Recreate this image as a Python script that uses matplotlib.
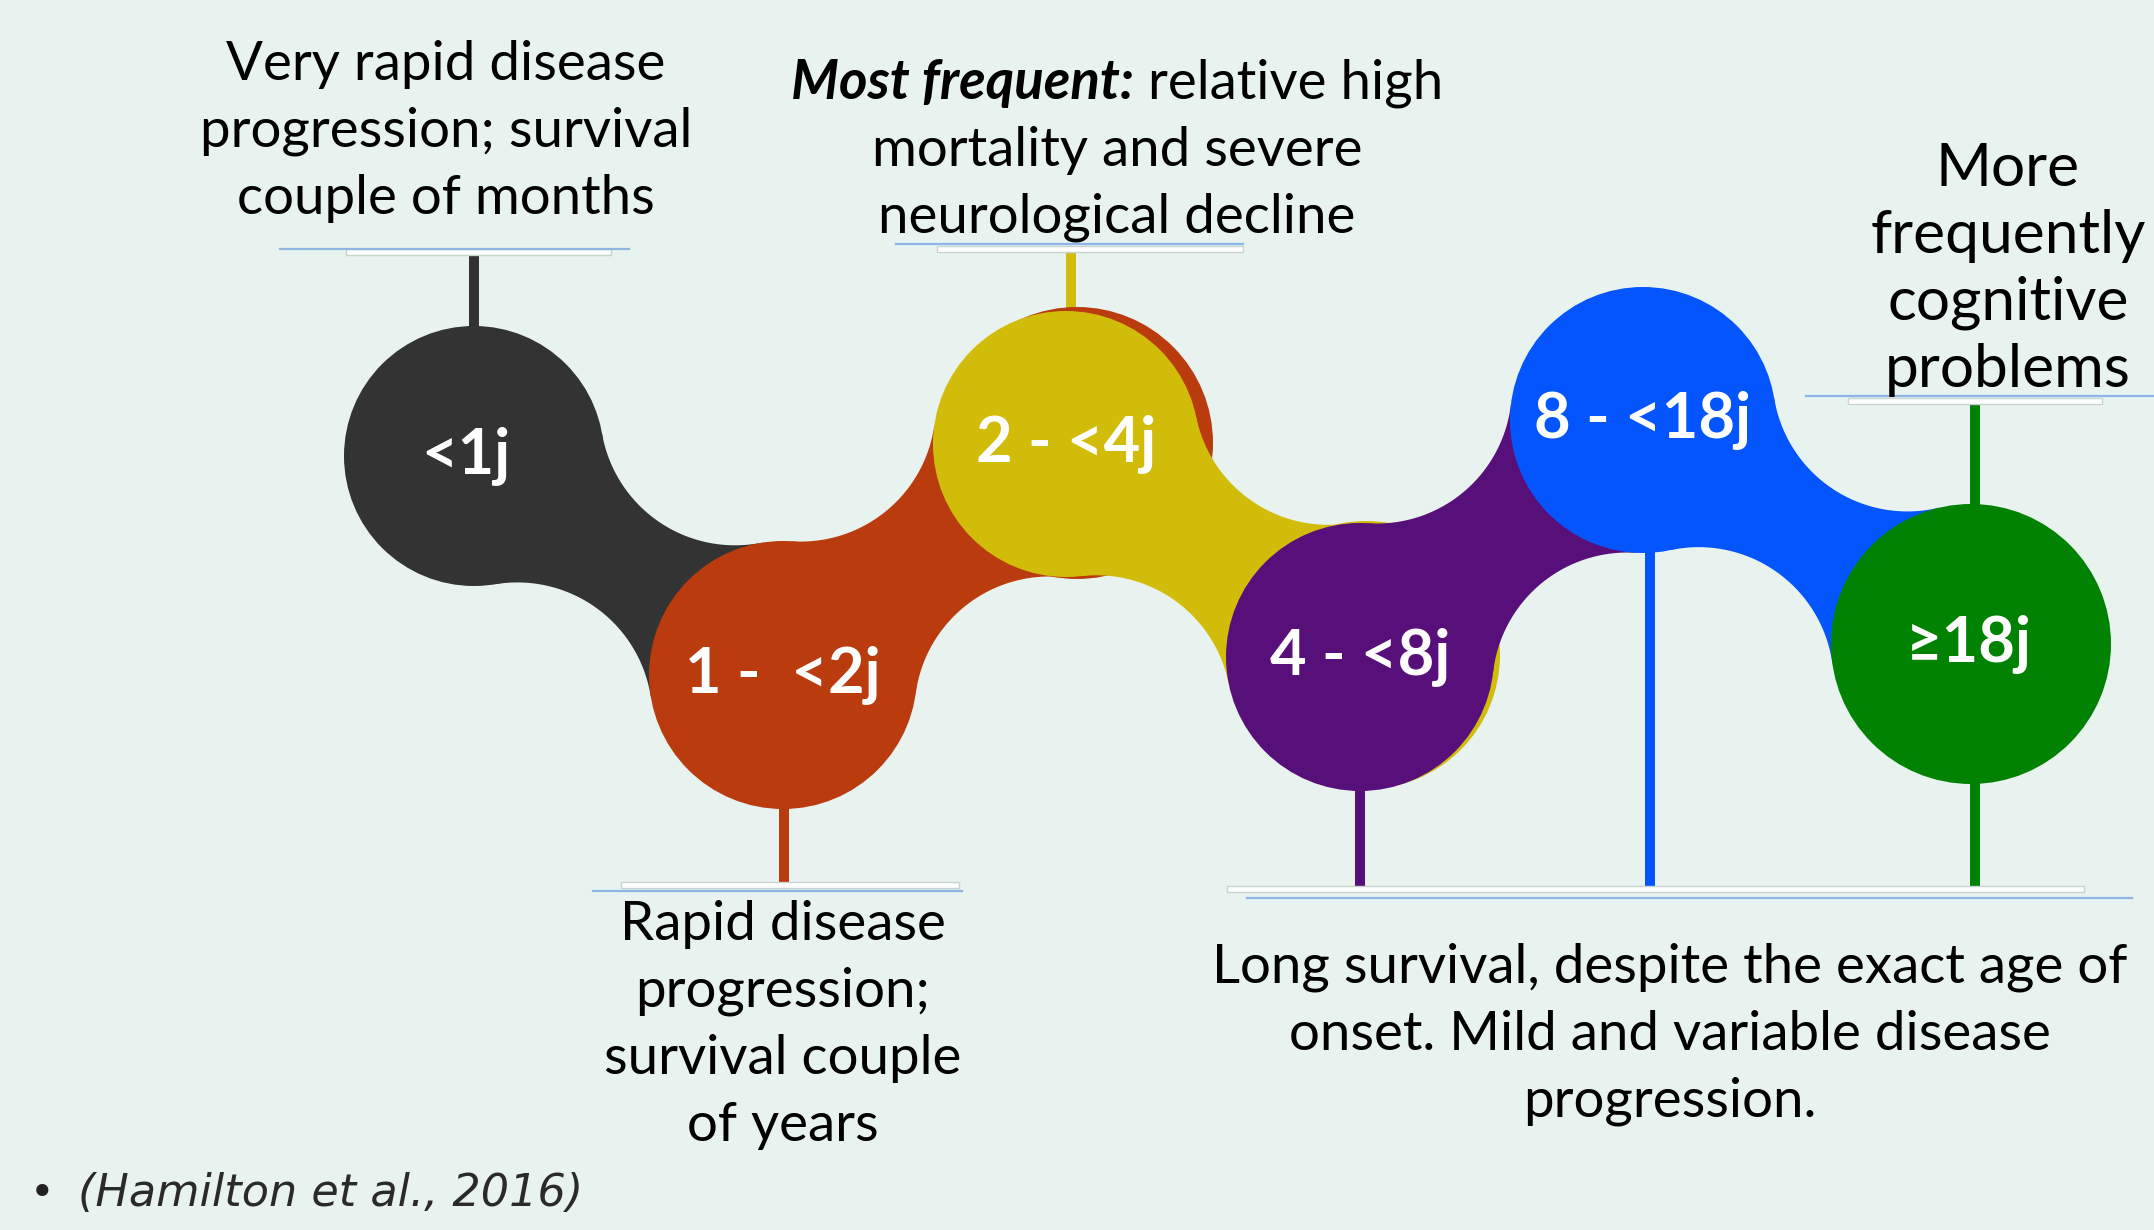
import matplotlib
matplotlib.use('Agg')
import matplotlib.pyplot as plt
import numpy as np
from matplotlib.patches import Circle, Polygon, Rectangle
from matplotlib.lines import Line2D

# ---------------- data ----------------
stage_labels = ['<1j', '1 -  <2j', '2 - <4j', '4 - <8j', '8 - <18j', '≥18j']
stage_colors = ['#333333', '#BA3B0E', '#D2BC0A', '#57107A', '#0455FE', '#028202']
top_left_text = ['Very rapid disease', 'progression; survival', 'couple of months']
top_mid_bold = 'Most frequent:'
top_mid_first = ' relative high'
top_mid_text = ['mortality and severe', 'neurological decline']
top_right_text = ['More', 'frequently', 'cognitive', 'problems']
bottom_left_text = ['Rapid disease', 'progression;', 'survival couple', 'of years']
bottom_right_text = ['Long survival, despite the exact age of',
                     'onset. Mild and variable disease',
                     'progression.']
citation = '(Hamilton et al., 2016)'

# ---------------- layout ----------------
W, H = 2154, 1230
BG = '#E8F2EE'
cx = [474, 783, 1066, 1360, 1643, 1971]
cy = [456, 675, 444, 657, 420, 644]
rad = [130, 134, 133, 134, 133, 140]
CUT = 135
BODY = 39.3
BODY_RIGHT = 43.5
LABEL = 45.5
FONT = ['Lato', 'DejaVu Sans']

fig = plt.figure(figsize=(W / 100, H / 100), dpi=100, facecolor=BG)
ax = fig.add_axes([0, 0, 1, 1])
ax.set_xlim(0, W)
ax.set_ylim(H, 0)
ax.set_aspect('equal')
ax.axis('off')
ax.set_facecolor(BG)


def connector(c1, r1, c2, r2, rc, color, z):
    c1 = np.array(c1, float)
    c2 = np.array(c2, float)
    dvec = c2 - c1
    D = np.linalg.norm(dvec)
    u = dvec / D
    perp = np.array([u[1], -u[0]])
    a = ((r1 + rc) ** 2 - (r2 + rc) ** 2 + D ** 2) / (2 * D)
    hgt = np.sqrt((r1 + rc) ** 2 - a ** 2)
    arcs = []
    for s in (1, -1):
        P = c1 + a * u + s * hgt * perp
        t1 = c1 + r1 * (P - c1) / np.linalg.norm(P - c1)
        t2 = c2 + r2 * (P - c2) / np.linalg.norm(P - c2)
        a1 = np.arctan2(t1[1] - P[1], t1[0] - P[0])
        a2 = np.arctan2(t2[1] - P[1], t2[0] - P[0])
        da = (a2 - a1 + np.pi) % (2 * np.pi) - np.pi
        angs = a1 + da * np.linspace(0, 1, 80)
        arcs.append(np.c_[P[0] + rc * np.cos(angs), P[1] + rc * np.sin(angs)])
    poly = np.vstack([arcs[0], [c2], arcs[1][::-1], [c1]])
    ax.add_patch(Polygon(poly, closed=True, facecolor=color, edgecolor='none', zorder=z))


def stem(x, y0, y1, color):
    ax.add_line(Line2D([x, x], [y0, y1], color=color, lw=7.2,
                       solid_capstyle='butt', zorder=1))


def underline(bx0, bx1, by, lx0, lx1, ly):
    ax.add_patch(Rectangle((bx0, by), bx1 - bx0, 6, facecolor='white',
                           edgecolor='#C9D3D1', lw=1.0, zorder=2))
    ax.add_line(Line2D([lx0, lx1], [ly, ly], color='#8DB6E4', lw=1.6, zorder=2))


# ---------------- stems & underlines ----------------
stem(474, 252, 330, stage_colors[0])
stem(784, 805, 884, stage_colors[1])
stem(1071, 250, 315, stage_colors[2])
stem(1360, 785, 888, stage_colors[3])
stem(1650, 415, 888, stage_colors[4])
stem(1975, 403, 510, stage_colors[5])
stem(1975, 780, 888, stage_colors[5])

underline(346, 611, 249, 280, 629, 249)
underline(937, 1243, 246, 896, 1243, 244)
underline(1848, 2102, 398, 1806, 2154, 396)
underline(621, 959, 882, 593, 962, 891)
underline(1227, 2084, 886, 1247, 2132, 898)

# ---------------- blobs ----------------
z = 3
for i in range(len(stage_labels)):
    if i == 2:
        ax.add_patch(Circle((cx[2] + 11, cy[2] - 1), rad[2] + 3,
                            facecolor=stage_colors[1], edgecolor='none', zorder=z))
        z += 1
    if i == 3:
        ax.add_patch(Circle((cx[3] + 6, cy[3] - 2), rad[3],
                            facecolor=stage_colors[2], edgecolor='none', zorder=z))
        z += 1
    ax.add_patch(Circle((cx[i], cy[i]), rad[i], facecolor=stage_colors[i],
                        edgecolor='none', zorder=z))
    z += 1
    if i < len(stage_labels) - 1:
        connector((cx[i], cy[i]), rad[i], (cx[i + 1], cy[i + 1]), rad[i + 1],
                  CUT, stage_colors[i], z)
        z += 1

label_dx = [-8, 0, 0, 0, 0, -2]
for i, lab in enumerate(stage_labels):
    ax.text(cx[i] + label_dx[i], cy[i] + 17, lab, color='white', fontsize=LABEL,
            fontweight='bold', family=FONT, ha='center', va='baseline', zorder=50)

# ---------------- annotation texts ----------------
LS = 67


def block(lines, x, y0, size=BODY):
    for k, t in enumerate(lines):
        ax.text(x, y0 + k * LS, t, fontsize=size, family=FONT, color='black',
                ha='center', va='baseline', zorder=60)


block(top_left_text, 446, 80)
block(top_mid_text, 1117, 166)
block(top_right_text, 2008, 186, BODY_RIGHT)
block(bottom_left_text, 783, 940)
block(bottom_right_text, 1670, 983)

# bold-italic + regular first line of the middle block
tb = ax.text(0, 99, top_mid_bold, fontsize=BODY, family=FONT, fontweight='bold',
             fontstyle='italic', color='black', ha='left', va='baseline', zorder=60)
tr = ax.text(0, 99, top_mid_first, fontsize=BODY, family=FONT, color='black',
             ha='left', va='baseline', zorder=60)
fig.canvas.draw()
rend = fig.canvas.get_renderer()
inv = ax.transData.inverted()


def width_data(t):
    bb = t.get_window_extent(rend)
    p0 = inv.transform((bb.x0, bb.y0))
    p1 = inv.transform((bb.x1, bb.y0))
    return p1[0] - p0[0]


wb = width_data(tb)
wr = width_data(tr)
start = 1117 - (wb + wr) / 2
tb.set_x(start)
tr.set_x(start + wb)

# citation
ax.text(42, 1206, '•', fontsize=30, family=['DejaVu Sans'], color='#222222',
        ha='center', va='baseline', zorder=60)
ax.text(78, 1206, citation, fontsize=32, family=['DejaVu Sans'], fontstyle='italic',
        color='#2A2A2A', ha='left', va='baseline', zorder=60)

fig.savefig('out.png', dpi=100, facecolor=BG)
